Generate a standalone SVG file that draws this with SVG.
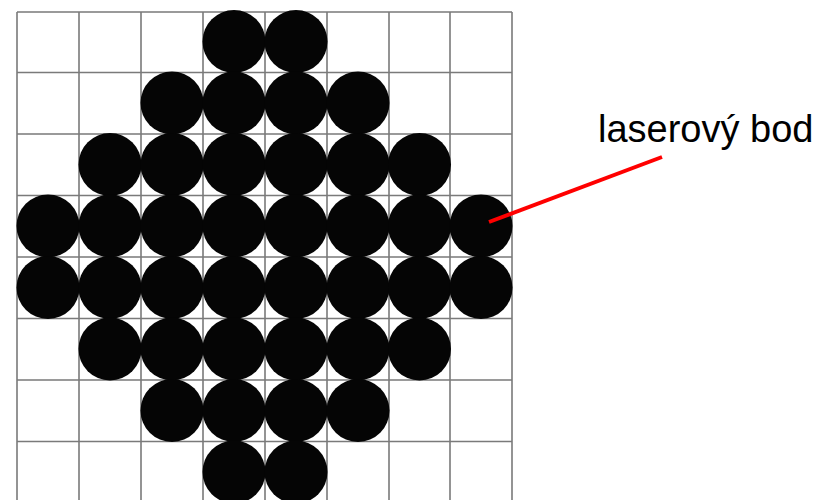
<svg xmlns="http://www.w3.org/2000/svg" width="825" height="500" viewBox="0 0 825 500">
<style>
.g{stroke:#7a7a7a;stroke-width:1.6;fill:none}
.d{fill:#050505}
.lbl{font-family:"Liberation Sans",Arial,sans-serif;font-size:38px;fill:#000}
</style>
<rect width="825" height="500" fill="#fff"/>
<g id="grid" class="g">
<path d="M17 12V500M79 12V500M141 12V500M203 12V500M265 12V500M327 12V500M389 12V500M450 12V500M512 12V500"/>
<path d="M17 12H512M17 72.5H512M17 134H512M17 195.5H512M17 257H512M17 318.5H512M17 380H512M17 441.5H512"/>
</g>
<g id="dots" class="d">
<circle cx="234" cy="41.5" r="31.5"/><circle cx="296" cy="41.5" r="31.5"/>
<circle cx="172" cy="103" r="31.5"/><circle cx="234" cy="103" r="31.5"/><circle cx="296" cy="103" r="31.5"/><circle cx="358" cy="103" r="31.5"/>
<circle cx="110" cy="164.5" r="31.5"/><circle cx="172" cy="164.5" r="31.5"/><circle cx="234" cy="164.5" r="31.5"/><circle cx="296" cy="164.5" r="31.5"/><circle cx="358" cy="164.5" r="31.5"/><circle cx="419.5" cy="164.5" r="31.5"/>
<circle cx="48" cy="226" r="31.5"/><circle cx="110" cy="226" r="31.5"/><circle cx="172" cy="226" r="31.5"/><circle cx="234" cy="226" r="31.5"/><circle cx="296" cy="226" r="31.5"/><circle cx="358" cy="226" r="31.5"/><circle cx="419.5" cy="226" r="31.5"/><circle cx="481" cy="226" r="31.5"/>
<circle cx="48" cy="287.5" r="31.5"/><circle cx="110" cy="287.5" r="31.5"/><circle cx="172" cy="287.5" r="31.5"/><circle cx="234" cy="287.5" r="31.5"/><circle cx="296" cy="287.5" r="31.5"/><circle cx="358" cy="287.5" r="31.5"/><circle cx="419.5" cy="287.5" r="31.5"/><circle cx="481" cy="287.5" r="31.5"/>
<circle cx="110" cy="349" r="31.5"/><circle cx="172" cy="349" r="31.5"/><circle cx="234" cy="349" r="31.5"/><circle cx="296" cy="349" r="31.5"/><circle cx="358" cy="349" r="31.5"/><circle cx="419.5" cy="349" r="31.5"/>
<circle cx="172" cy="410.5" r="31.5"/><circle cx="234" cy="410.5" r="31.5"/><circle cx="296" cy="410.5" r="31.5"/><circle cx="358" cy="410.5" r="31.5"/>
<circle cx="234" cy="472" r="31.5"/><circle cx="296" cy="472" r="31.5"/>
</g>
<g id="connectors">
<line x1="489" y1="222" x2="662" y2="157" stroke="#f00" stroke-width="4"/>
</g>
<g id="label">
<text class="lbl" x="598" y="142">laserový bod</text>
</g>
</svg>
